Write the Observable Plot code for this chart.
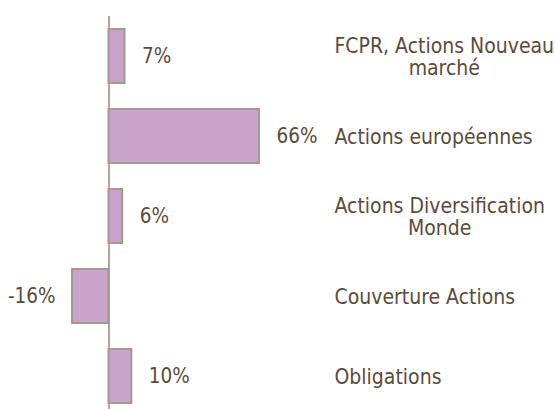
<!DOCTYPE html>
<html>
<head>
<meta charset="utf-8">
<script src="https://cdn.jsdelivr.net/npm/d3@7"></script>
<script src="https://cdn.jsdelivr.net/npm/@observablehq/plot@0.6"></script>
<style>
  html, body { margin: 0; padding: 0; background: #fff; }
  #chart svg { display: block; }
</style>
</head>
<body>
<div id="chart"></div>
<script>
const categories = [
  "FCPR, Actions Nouveau\nmarché",
  "Actions européennes",
  "Actions Diversification\nMonde",
  "Couverture Actions",
  "Obligations"
];
const values = [7, 66, 6, -16, 10];

const data = categories.map((c, i) => ({category: c, value: values[i]}));

const textColor = "#5a4c3b";
const font = "'DejaVu Sans Condensed', 'DejaVu Sans', sans-serif";

const chart = Plot.plot({
  width: 555,
  height: 409,
  marginLeft: 0,
  marginRight: 2,
  marginTop: 16,
  marginBottom: 0,
  style: {fontFamily: font, fontSize: "21px", color: textColor, background: "#fff"},
  x: {domain: [-47.6, 195], axis: null},
  y: {domain: categories, range: [16, 416.5], paddingInner: 0.325, paddingOuter: 0.1625, axis: null},
  marks: [
    Plot.ruleX([0], {stroke: "#9c9282", strokeWidth: 1.6}),
    Plot.barX(data, {x: "value", y: "category", fill: "#caa3cd", stroke: "#a39a8b", strokeWidth: 2}),
    Plot.text(data, {
      x: "value", y: "category",
      text: d => `${d.value}%`,
      textAnchor: d => d.value < 0 ? "end" : "start",
      fill: textColor, fontSize: 20.5
    }),
    Plot.text(data, {
      y: "category", text: "category",
      frameAnchor: "left", dx: 334, textAnchor: "start",
      lineHeight: 1.05,
      fill: textColor, fontSize: 21,
      className: "catlabels"
    })
  ]
});

document.getElementById("chart").appendChild(chart);

// value label offsets (start/end anchor with a gap from the bar end)
const valueTexts = chart.querySelectorAll("g[aria-label='text']")[0].querySelectorAll("text");
valueTexts.forEach((t, i) => {
  const gap = 17;
  const shift = values[i] < 0 ? -gap : gap;
  t.setAttribute("transform", (t.getAttribute("transform") || "") + ` translate(${shift},0)`);
  t.setAttribute("text-anchor", values[i] < 0 ? "end" : "start");
});

// center lines of multi-line category labels within their own block
chart.querySelectorAll(".catlabels text").forEach(t => {
  const spans = t.querySelectorAll("tspan");
  if (spans.length > 1) {
    let w = 0;
    spans.forEach(s => { w = Math.max(w, s.getComputedTextLength()); });
    t.setAttribute("text-anchor", "middle");
    spans.forEach(s => s.setAttribute("x", w / 2));
  }
});
</script>
</body>
</html>
